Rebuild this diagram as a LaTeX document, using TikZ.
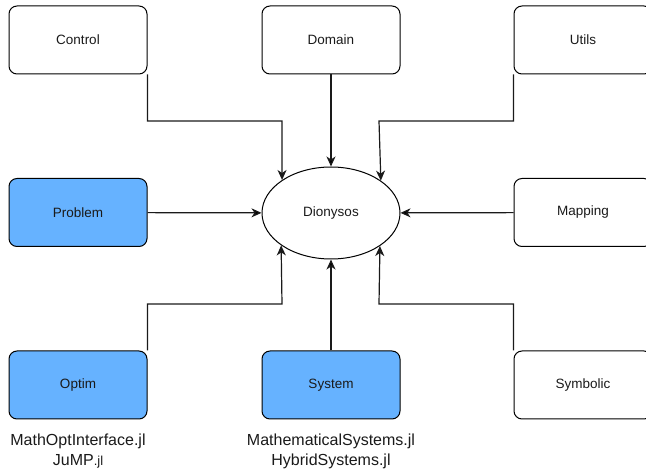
\documentclass[tikz,border=0pt]{standalone}
\usepackage{fontspec}
\setmainfont{Liberation Sans}
\usetikzlibrary{arrows.meta,shapes.geometric}
\definecolor{pkgblue}{HTML}{66B2FF}
\definecolor{inkgray}{HTML}{1A1A1A}
\tikzset{
  pkg/.style={shape=rectangle, draw=black, line width=1pt, rounded corners=8pt, minimum width=138pt, minimum height=68pt, inner sep=0pt, font=\fontsize{13.5}{16}\selectfont, text=inkgray},
  core/.style={pkg, fill=pkgblue},
  link/.style={-{Stealth[length=10pt,width=9pt,inset=3pt]}, line width=1.2pt, draw=inkgray},
  deplabel/.style={align=center, font=\fontsize{16}{20}\selectfont, text=inkgray, inner sep=0pt}
}
\begin{document}
\begin{tikzpicture}[x=1pt, y=-1pt]
\useasboundingbox (0,0) rectangle (646,470);
\node[pkg] (ctrl) at (78,40) {Control};
\node[pkg] (dom) at (331,40) {Domain};
\node[pkg] (utils) at (583,40) {Utils};
\node[core] (prob) at (78,212.5) {Problem};
\node[pkg] (map) at (583,212.5) {Mapping};
\node[core] (optim) at (78,385) {Optim};
\node[core] (sys) at (331,385) {System};
\node[pkg] (symb) at (583,385) {Symbolic};
\node[shape=ellipse, draw=black, line width=1pt, minimum width=138pt, minimum height=92pt, inner sep=0pt, font=\fontsize{13.5}{16}\selectfont, text=inkgray] (dio) at (331,213) {Dionysos};
\node[deplabel] (optimlib) at (78,451) {MathOptInterface.jl\\JuMP{\fontsize{13}{16}\selectfont.jl}};
\node[deplabel] (syslib) at (331,451) {MathematicalSystems.jl\\HybridSystems.jl};
\path [link] (dom) edge (dio);
\path [link] (prob) edge (dio);
\path [link] (map) edge (dio);
\path [link] (sys) edge (dio);
\draw [link] (ctrl.south east) |- (282,121) -- (dio.146.5);
\draw [link] (utils.south west) |- (379,121) -- (dio.33.5);
\draw [link] (optim.north east) |- (282,304) -- (dio.213.5);
\draw [link] (symb.north west) |- (379,304) -- (dio.326.5);
\end{tikzpicture}
\end{document}
